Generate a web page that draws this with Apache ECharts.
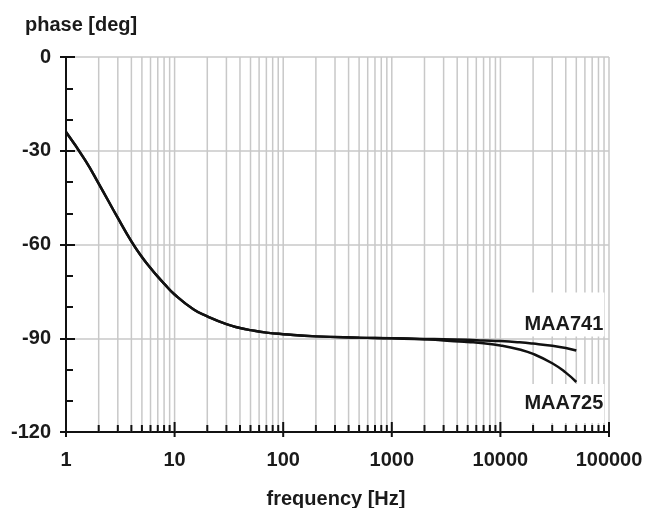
<!DOCTYPE html>
<html>
<head>
<meta charset="utf-8">
<script src="https://cdn.jsdelivr.net/npm/echarts@6/dist/echarts.min.js"></script>
<style>
  html, body { margin: 0; padding: 0; background: #fff; }
  #chart { width: 646px; height: 508px; }
</style>
</head>
<body>
<div id="chart"></div>
<script>
// frequency points (Hz)
const freqs = [1, 1.5, 2, 3, 4, 5, 6, 7, 8, 10, 15, 20, 30, 40, 50, 70, 100, 200, 500,
  1000, 2000, 3000, 5000, 7000, 10000, 15000, 20000, 30000, 40000, 50000];
// phase [deg]
const maa741 = [-24, -33, -40.5, -51.5, -59, -64, -67.5, -70.3, -72.5, -76, -80.8, -83, -85.5, -86.7, -87.4, -88.2, -88.7, -89.4, -89.8,
  -90, -90.2, -90.3, -90.5, -90.7, -90.9, -91.3, -91.7, -92.4, -93.1, -93.9];
const maa725 = [-24, -33, -40.5, -51.5, -59, -64, -67.5, -70.3, -72.5, -76, -80.8, -83, -85.5, -86.7, -87.4, -88.2, -88.7, -89.4, -89.8,
  -90, -90.4, -90.7, -91.2, -91.6, -92.3, -93.6, -95, -98, -101, -104];

const decades = [1, 10, 100, 1000, 10000, 100000];

// log grid positions 2..9 in every decade
const minorFreqs = [];
for (let d = 1; d < 100000; d *= 10) {
  for (let m = 2; m <= 9; m++) minorFreqs.push(m * d);
}
const gridData = minorFreqs.map(f => [f, 0]).concat(decades.map(f => [f, 1]));

const font = '"Liberation Sans", Arial, sans-serif';
const txt = '#1a1a1a';

function pair(xs, ys) {
  return xs.map((x, i) => [x, ys[i]]);
}

function renderGrid(params, api) {
  const f = api.value(0);
  const major = api.value(1) === 1;
  const top = api.coord([f, 0]);
  const bot = api.coord([f, -120]);
  const children = [];
  if (f > 1) {
    children.push({
      type: 'line',
      shape: { x1: top[0], y1: top[1], x2: bot[0], y2: bot[1] },
      style: { stroke: '#c8c8c8', lineWidth: 1.5 }
    });
  }
  children.push({
    type: 'line',
    shape: { x1: bot[0], y1: bot[1] + (major ? 5 : 0), x2: bot[0], y2: bot[1] - (major ? 10 : 7) },
    style: { stroke: '#111', lineWidth: 2 },
    z2: 10
  });
  return { type: 'group', children: children };
}

let myChart = echarts.init(document.getElementById('chart'));
let option = {
  animation: false,
  backgroundColor: '#fff',
  title: [
    {
      text: 'phase [deg]', left: 20, top: 10,
      textStyle: { fontFamily: font, fontSize: 20, fontWeight: 'bold', color: txt }
    },
    {
      text: 'frequency [Hz]', left: 331, top: 484, textAlign: 'center',
      textStyle: { fontFamily: font, fontSize: 20, fontWeight: 'bold', color: txt }
    }
  ],
  grid: { left: 66, right: 37, top: 57, bottom: 76, containLabel: false },
  xAxis: {
    type: 'log',
    logBase: 10,
    min: 1,
    max: 100000,
    axisLine: { onZero: false, lineStyle: { color: '#111', width: 2 } },
    axisTick: { show: false },
    splitLine: { show: false },
    axisLabel: {
      margin: 18,
      fontFamily: font, fontSize: 20, fontWeight: 'bold', color: txt,
      formatter: v => String(Math.round(v))
    }
  },
  yAxis: [
    {
      type: 'value',
      min: -120,
      max: 0,
      interval: 30,
      axisLine: { show: true, onZero: false, lineStyle: { color: '#111', width: 2 } },
      axisTick: { show: true, inside: false, length: 6, lineStyle: { color: '#111', width: 2 } },
      splitLine: { show: true, lineStyle: { color: '#c8c8c8', width: 1.5 } },
      axisLabel: {
        margin: 15,
        fontFamily: font, fontSize: 20, fontWeight: 'bold', color: txt
      }
    },
    {
      type: 'value',
      position: 'left',
      min: -120,
      max: 0,
      interval: 30,
      axisLine: { show: false, onZero: false },
      axisTick: { show: true, inside: true, length: 9, lineStyle: { color: '#111', width: 2 } },
      minorTick: { show: true, splitNumber: 3, length: 7, lineStyle: { color: '#111', width: 2 } },
      splitLine: { show: false },
      axisLabel: { show: false }
    }
  ],
  series: [
    {
      type: 'custom',
      renderItem: renderGrid,
      data: gridData,
      encode: { x: 0, y: 1 },
      z: 1,
      silent: true
    },
    {
      name: 'MAA741',
      type: 'line',
      data: pair(freqs, maa741),
      smooth: 0.5,
      showSymbol: false,
      z: 3,
      lineStyle: { color: '#111', width: 2.5 },
      markPoint: {
        symbol: 'circle',
        symbolSize: 0,
        z: 2,
        data: [{ coord: [freqs[freqs.length - 1], maa741[maa741.length - 1]] }],
        label: {
          show: true,
          formatter: 'MAA741',
          position: [28, -58],
          align: 'right',
          verticalAlign: 'top',
          lineHeight: 20,
          fontFamily: font, fontSize: 20, fontWeight: 'bold', color: txt,
          backgroundColor: '#fff',
          padding: [22, 1, 2, 10]
        }
      }
    },
    {
      name: 'MAA725',
      type: 'line',
      data: pair(freqs, maa725),
      smooth: 0.5,
      showSymbol: false,
      z: 3,
      lineStyle: { color: '#111', width: 2.5 },
      markPoint: {
        symbol: 'circle',
        symbolSize: 0,
        z: 2,
        data: [{ coord: [freqs[freqs.length - 1], maa725[maa725.length - 1]] }],
        label: {
          show: true,
          formatter: 'MAA725',
          position: [28, 2],
          align: 'right',
          verticalAlign: 'top',
          lineHeight: 20,
          fontFamily: font, fontSize: 20, fontWeight: 'bold', color: txt,
          backgroundColor: '#fff',
          padding: [9, 1, 10, 10]
        }
      }
    }
  ]
};
myChart.setOption(option);
</script>
</body>
</html>
